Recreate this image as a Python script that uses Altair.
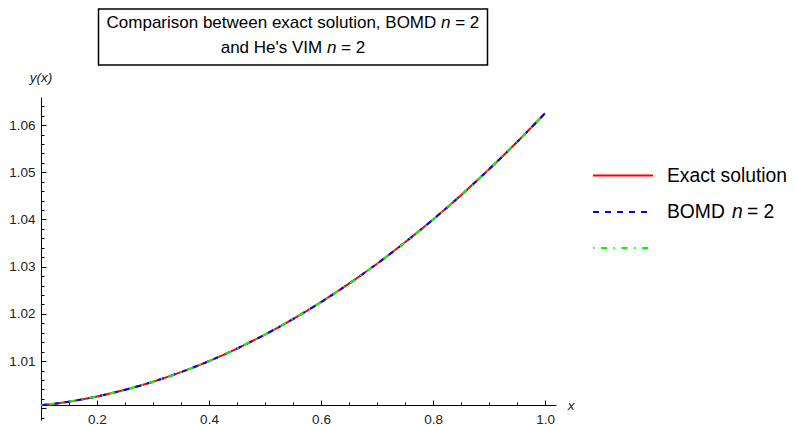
import altair as alt
import pandas as pd

# ---- data ----
x_vals = [0.1, 0.15, 0.2, 0.25, 0.3, 0.35, 0.4, 0.45, 0.5, 0.55,
          0.6, 0.65, 0.7, 0.75, 0.8, 0.85, 0.9, 0.95, 1.0]
exact_y = [1.00063, 1.00141, 1.0025, 1.00391, 1.00563, 1.00766, 1.0100, 1.01266, 1.01563, 1.01891,
           1.0225, 1.02641, 1.03063, 1.03516, 1.0400, 1.04516, 1.05063, 1.05641, 1.0625]
bomd_y = [1.00063, 1.00141, 1.0025, 1.00391, 1.00563, 1.00766, 1.0100, 1.01266, 1.01563, 1.01891,
          1.0225, 1.02641, 1.03063, 1.03516, 1.0400, 1.04516, 1.05063, 1.05641, 1.0625]
vim_y = [1.00063, 1.00141, 1.0025, 1.00391, 1.00563, 1.00766, 1.0100, 1.01266, 1.01563, 1.01891,
         1.0225, 1.02641, 1.03063, 1.03516, 1.0400, 1.04516, 1.05063, 1.05641, 1.0625]

x_label_values = [0.2, 0.4, 0.6, 0.8, 1.0]
x_tick_values = [0.15, 0.2, 0.25, 0.3, 0.35, 0.4, 0.45, 0.5, 0.55, 0.6, 0.65,
                 0.7, 0.75, 0.8, 0.85, 0.9, 0.95, 1.0]
y_label_values = [1.01, 1.02, 1.03, 1.04, 1.05, 1.06]
y_tick_values = [0.998, 1.0, 1.002, 1.004, 1.006, 1.008, 1.01, 1.012, 1.014, 1.016, 1.018,
                 1.02, 1.022, 1.024, 1.026, 1.028, 1.03, 1.032, 1.034, 1.036, 1.038,
                 1.04, 1.042, 1.044, 1.046, 1.048, 1.05, 1.052, 1.054, 1.056, 1.058,
                 1.06, 1.062, 1.064]

X_DOMAIN = [0.1, 1.0196]
Y_DOMAIN = [0.99752, 1.06595]

W, H = 515, 323
FONT = "Liberation Sans"

df_exact = pd.DataFrame({"x": x_vals, "y": exact_y})
df_bomd = pd.DataFrame({"x": x_vals, "y": bomd_y})
df_vim = pd.DataFrame({"x": x_vals, "y": vim_y})

xs = alt.Scale(domain=X_DOMAIN, nice=False, zero=False)
ys = alt.Scale(domain=Y_DOMAIN, nice=False, zero=False)

x_major_test = "abs(datum.value*5 - round(datum.value*5)) < 0.001"
y_major_test = "abs(datum.value*100 - round(datum.value*100)) < 0.001"

exact = alt.Chart(df_exact).mark_line(color="#ff0000", strokeWidth=2, interpolate="monotone").encode(
    x=alt.X("x:Q", scale=xs, axis=alt.Axis(
        orient="bottom", offset=-15, values=x_label_values, format=".1f", ticks=False,
        domain=True, domainColor="#000000", domainWidth=1, grid=False,
        labelFont=FONT, labelFontSize=13.5, labelColor="#222222", labelPadding=7, title=None)),
    y=alt.Y("y:Q", scale=ys, axis=alt.Axis(
        orient="left", values=y_label_values, format=".2f", ticks=False,
        domain=True, domainColor="#000000", domainWidth=1, grid=False,
        labelFont=FONT, labelFontSize=13.5, labelColor="#222222", labelPadding=6, title=None)),
)

bomd = alt.Chart(df_bomd).mark_line(color="#0000ff", strokeWidth=2, strokeDash=[6, 6],
                                    interpolate="monotone").encode(
    x=alt.X("x:Q", scale=xs, axis=alt.Axis(
        orient="top", offset=-308, values=x_tick_values, labels=False, domain=False, grid=False,
        ticks=True, tickColor="#000000", tickWidth=1,
        tickSize={"condition": {"test": x_major_test, "value": 5}, "value": 3}, title=None)),
    y=alt.Y("y:Q", scale=ys, axis=alt.Axis(
        orient="right", offset=-W, values=y_tick_values, labels=False, domain=False, grid=False,
        ticks=True, tickColor="#000000", tickWidth=1,
        tickSize={"condition": {"test": y_major_test, "value": 5}, "value": 3}, title=None)),
)

vim = alt.Chart(df_vim).mark_line(color="#00ff00", strokeWidth=2, strokeDash=[1.5, 6.5, 6, 6.5],
                                  interpolate="monotone").encode(
    x=alt.X("x:Q", scale=xs, axis=None),
    y=alt.Y("y:Q", scale=ys, axis=None),
)

one = pd.DataFrame({"a": [0]})


def txt(s, x, y, size=17, align="left", italic=False, color="#000000"):
    return alt.Chart(one).mark_text(
        text=s, font=FONT, fontSize=size, align=align, baseline="middle",
        fontStyle="italic" if italic else "normal", color=color
    ).encode(x=alt.value(x), y=alt.value(y))


# title box
box = alt.Chart(one).mark_rect(fill="white", stroke="black", strokeWidth=1.5).encode(
    x=alt.value(57.5), x2=alt.value(446.5), y=alt.value(-88), y2=alt.value(-32))

title_parts = [
    txt("Comparison between exact solution, BOMD", 395.3, -74, align="right"),
    txt("n", 400, -74, italic=True),
    txt("= 2", 414.2, -74),
    txt("and He's VIM", 281.2, -49, align="right"),
    txt("n", 285.9, -49, italic=True),
    txt("= 2", 300.1, -49),
]

axis_titles = [
    txt("y(x)", 0, -19, size=13.5, align="center", italic=True, color="#222222"),
    txt("x", 530, 309, size=13.5, align="center", italic=True, color="#222222"),
]

# legend
leg_exact = alt.Chart(one).mark_rule(color="#ff0000", strokeWidth=2).encode(
    x=alt.value(552), x2=alt.value(612), y=alt.value(78.5))
leg_bomd = alt.Chart(one).mark_rule(color="#0000ff", strokeWidth=2, strokeDash=[6, 6]).encode(
    x=alt.value(552), x2=alt.value(612), y=alt.value(115))
leg_vim = alt.Chart(one).mark_rule(color="#00ff00", strokeWidth=2, strokeDash=[1.5, 6.5, 6, 6.5]).encode(
    x=alt.value(552), x2=alt.value(612), y=alt.value(151))
legend_texts = [
    txt("Exact solution", 626, 78.5, size=19.3),
    txt("BOMD", 626, 115, size=19.3),
    txt("n", 691, 115, size=19.3, italic=True),
    txt("= 2", 706, 115, size=19.3),
]

chart = alt.layer(
    exact, bomd, vim, box, *title_parts, *axis_titles,
    leg_exact, leg_bomd, leg_vim, *legend_texts
).resolve_axis(x="independent", y="independent").properties(
    width=W, height=H,
    autosize="none",
    padding={"left": 33, "top": 89, "right": 232, "bottom": 8},
    background="white",
).configure_view(stroke=None)

chart.save("out.html", embed_options={"renderer": "svg", "actions": False})
